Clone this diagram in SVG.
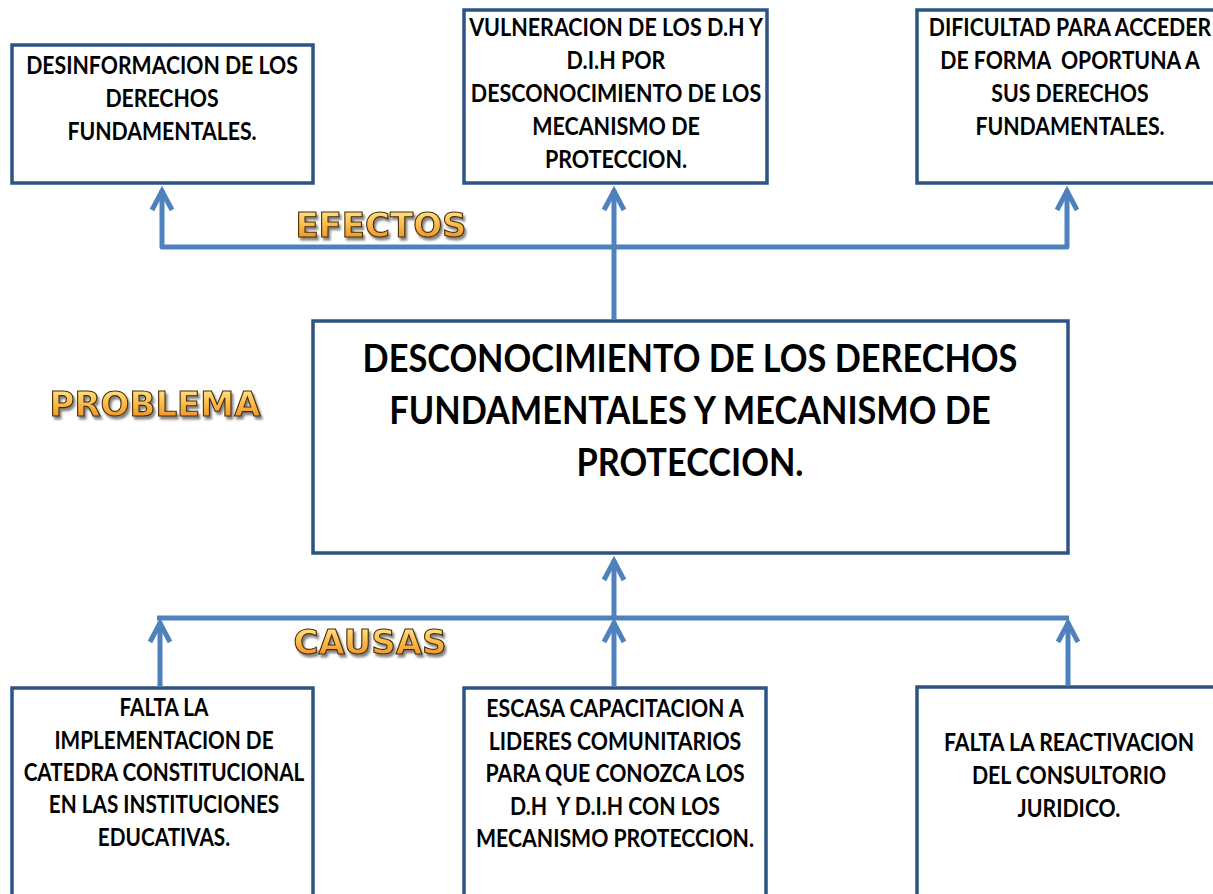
<svg xmlns="http://www.w3.org/2000/svg" width="1213" height="894" viewBox="0 0 1213 894">
<style>
.box{fill:#fff;stroke:#2e5484;stroke-width:3.5}
.t{font-family:Lato,"Open Sans","Liberation Sans",sans-serif;font-weight:bold;font-size:25px;fill:#000;text-anchor:middle}
.big{font-size:39px}
.con{fill:none;stroke:#4f81bd;stroke-width:5;stroke-linejoin:round}
.arw{marker-end:url(#arr)}
.wa{font-family:"DejaVu Sans","Liberation Sans",sans-serif;font-weight:bold;font-size:34px;fill:url(#gold);stroke:#4a2c05;stroke-width:1.1;text-anchor:middle;filter:url(#sh)}
</style>
<defs>
<marker id="arr" viewBox="-24 -14 32 28" refX="0" refY="0" markerWidth="32" markerHeight="28" markerUnits="userSpaceOnUse" orient="auto-start-reverse" style="overflow:visible">
<path d="M -20 -10 L -1 0 L -20 10" fill="none" stroke="#4f81bd" stroke-width="5" stroke-linejoin="miter"/>
</marker>
<linearGradient id="gold" x1="0" y1="0" x2="0" y2="1">
<stop offset="0" stop-color="#fff2a0"/>
<stop offset="0.45" stop-color="#fbc050"/>
<stop offset="1" stop-color="#e8821a"/>
</linearGradient>
<filter id="sh" x="-10%" y="-20%" width="130%" height="160%">
<feDropShadow dx="2" dy="3" stdDeviation="1.2" flood-color="#333" flood-opacity="0.6"/>
</filter>
</defs>
<rect width="1213" height="894" fill="#fff"/>

<g id="connectors">
<path class="con" d="M 162 190 V 247 H 1067 V 190" marker-start="url(#arr)" marker-end="url(#arr)"/>
<path class="con arw" d="M 614 319 V 190"/>
<path class="con" d="M 157 618 H 1069"/>
<path class="con arw" d="M 614 618 V 560"/>
<path class="con arw" d="M 160 686 V 622"/>
<path class="con arw" d="M 614 686 V 622"/>
<path class="con arw" d="M 1068 685 V 622"/>
</g>

<g id="efecto-desinformacion">
<rect class="box" x="12" y="45" width="301" height="138"/>
<g transform="translate(162 0) scale(0.85 1)">
<text class="t" x="0" y="74">DESINFORMACION DE LOS</text>
<text class="t" x="0" y="107">DERECHOS</text>
<text class="t" x="0" y="140">FUNDAMENTALES.</text>
</g>
</g>

<g id="efecto-vulneracion">
<rect class="box" x="464" y="10" width="303" height="173"/>
<g transform="translate(616 0) scale(0.86 1)">
<text class="t" x="0" y="36">VULNERACION DE LOS D.H Y</text>
<text class="t" x="0" y="69">D.I.H POR</text>
<text class="t" x="0" y="102">DESCONOCIMIENTO DE LOS</text>
<text class="t" x="0" y="135">MECANISMO DE</text>
<text class="t" x="0" y="168">PROTECCION.</text>
</g>
</g>

<g id="efecto-dificultad">
<rect class="box" x="917" y="10" width="310" height="173"/>
<g transform="translate(1070 0) scale(0.85 1)">
<text class="t" x="0" y="36">DIFICULTAD PARA ACCEDER</text>
<text class="t" x="0" y="69" xml:space="preserve">DE FORMA  OPORTUNA A</text>
<text class="t" x="0" y="102">SUS DERECHOS</text>
<text class="t" x="0" y="135">FUNDAMENTALES.</text>
</g>
</g>

<g id="label-efectos">
<text class="wa" x="381" y="237">EFECTOS</text>
</g>

<g id="label-problema">
<text class="wa" x="155" y="416">PROBLEMA</text>
</g>

<g id="problema">
<rect class="box" x="313" y="321" width="755" height="232"/>
<g transform="translate(690 0) scale(0.88 1)">
<text class="t big" x="0" y="372">DESCONOCIMIENTO DE LOS DERECHOS</text>
<text class="t big" x="0" y="424">FUNDAMENTALES Y MECANISMO DE</text>
<text class="t big" x="0" y="476">PROTECCION.</text>
</g>
</g>

<g id="label-causas">
<text class="wa" x="370" y="654">CAUSAS</text>
</g>

<g id="causa-catedra">
<rect class="box" x="12" y="688" width="301" height="230"/>
<g transform="translate(164 0) scale(0.83 1)">
<text class="t" x="0" y="716">FALTA LA</text>
<text class="t" x="0" y="749">IMPLEMENTACION DE</text>
<text class="t" x="0" y="781">CATEDRA CONSTITUCIONAL</text>
<text class="t" x="0" y="813">EN LAS INSTITUCIONES</text>
<text class="t" x="0" y="846">EDUCATIVAS.</text>
</g>
</g>

<g id="causa-capacitacion">
<rect class="box" x="464" y="688" width="302" height="230"/>
<g transform="translate(615 0) scale(0.85 1)">
<text class="t" x="0" y="717">ESCASA CAPACITACION A</text>
<text class="t" x="0" y="750">LIDERES COMUNITARIOS</text>
<text class="t" x="0" y="782">PARA QUE CONOZCA LOS</text>
<text class="t" x="0" y="815" xml:space="preserve">D.H  Y D.I.H CON LOS</text>
<text class="t" x="0" y="847">MECANISMO PROTECCION.</text>
</g>
</g>

<g id="causa-consultorio">
<rect class="box" x="917" y="687" width="310" height="230"/>
<g transform="translate(1069 0) scale(0.85 1)">
<text class="t" x="0" y="751">FALTA LA REACTIVACION</text>
<text class="t" x="0" y="784">DEL CONSULTORIO</text>
<text class="t" x="0" y="817">JURIDICO.</text>
</g>
</g>
</svg>
